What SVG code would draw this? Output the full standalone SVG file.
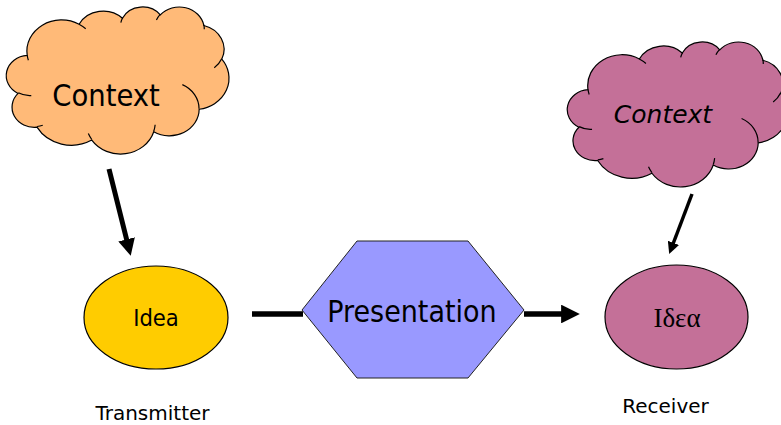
<svg xmlns="http://www.w3.org/2000/svg" xmlns:xlink="http://www.w3.org/1999/xlink" width="781" height="425" viewBox="0 0 781 425">
  <style>
    .cloud { stroke: #000; stroke-width: 1.2; }
    .crease { fill: none; stroke: #000; stroke-width: 1.2; }
    .nss { vector-effect: non-scaling-stroke; }
    .node { stroke: #000; stroke-width: 1.2; }
    .big { font-family: "DejaVu Sans Condensed", "DejaVu Sans", sans-serif; fill: #000; text-anchor: middle; }
    .small { font-family: "DejaVu Sans", sans-serif; fill: #000; text-anchor: middle; font-size: 20px; }
    .conn { stroke: #000; fill: none; }
  </style>
  <defs>
    <path id="cloudShape" class="nss" vector-effect="non-scaling-stroke" d="M 3900,14370 A 6753,9190 0 0 1 14005,5202 A 5333,7267 0 0 1 22457,3434 A 4365,5945 0 0 1 29834,2483 A 4857,6595 0 0 1 38319,5578 A 5333,7273 0 0 1 41819,15462 A 6775,9220 0 0 1 37405,30205 A 5785,7867 0 0 1 28557,36815 A 6752,9215 0 0 1 16482,39267 A 7720,10543 0 0 1 5806,35473 A 4360,5918 0 0 1 2115,25551 A 4345,5945 0 0 1 3900,14370 Z"/>
    <path id="cloudCreases" class="nss" vector-effect="non-scaling-stroke" d="M4693,26177 A4345,5945 0 0 1 2160,25380 M6928,34899 A4360,5918 0 0 1 5820,35280 M16478,39090 A6752,9215 0 0 1 15810,37349 M28827,34751 A6752,9215 0 0 1 28560,36660 M34129,22954 A5785,7867 0 0 1 37381,30090 M41798,15354 A5333,7273 0 0 1 40350,18030 M38324,5426 A4857,6595 0 0 1 38400,6690 M29078,3952 A4857,6595 0 0 1 29820,2339 M22141,4720 A4365,5945 0 0 1 22500,3330 M14000,5192 A6753,9190 0 0 1 15301,6542 M4127,15789 A6753,9190 0 0 1 3900,14371"/>
    <marker id="arrow" viewBox="0 0 10 10" refX="1" refY="5" markerWidth="3.4" markerHeight="3.4" orient="auto" markerUnits="strokeWidth">
      <path d="M0,0 L10,5 L0,10 Z" fill="#000"/>
    </marker>
  </defs>

  <g id="context-left">
    <g transform="translate(7.2,6.5) scale(0.005132,0.003402)">
      <use xlink:href="#cloudShape" class="cloud" fill="#FFBA78"/>
      <use xlink:href="#cloudCreases" class="crease"/>
    </g>
    <text class="big" x="106" y="106" font-size="30.5">Context</text>
  </g>

  <g id="context-right">
    <g transform="translate(568.2,41.5) scale(0.00508,0.003355)">
      <use xlink:href="#cloudShape" class="cloud" fill="#C47098"/>
      <use xlink:href="#cloudCreases" class="crease"/>
    </g>
    <text x="663" y="123" font-family="'DejaVu Sans', sans-serif" font-style="italic" font-size="25" text-anchor="middle" fill="#000">Context</text>
  </g>

  <g id="idea-left">
    <ellipse class="node" cx="156" cy="317.5" rx="72" ry="51.5" fill="#FFCC00"/>
    <text class="big" x="156" y="326" font-size="23.5">Idea</text>
  </g>

  <g id="presentation">
    <polygon points="302,310 357,241 468,241 524,310 468,378 357,378" fill="#9999FF" stroke="#222" stroke-width="1"/>
    <text class="big" x="412" y="322" font-size="30">Presentation</text>
  </g>

  <g id="idea-right">
    <ellipse class="node" cx="676.5" cy="317" rx="71.5" ry="52" fill="#C47098"/>
    <text x="677" y="327" font-family="'Liberation Serif', serif" font-size="27" text-anchor="middle" fill="#000">Ιδεα</text>
  </g>

  <g id="labels">
    <text class="small" x="152.5" y="420">Transmitter</text>
    <text class="small" x="665.5" y="413">Receiver</text>
  </g>

  <g id="connectors">
    <line class="conn" x1="109" y1="169" x2="127" y2="241" stroke-width="5" marker-end="url(#arrow)"/>
    <line class="conn" x1="692" y1="194" x2="673" y2="244" stroke-width="3.5" marker-end="url(#arrow)"/>
    <line class="conn" x1="252" y1="314" x2="303" y2="314" stroke-width="5.5"/>
    <line class="conn" x1="524" y1="314" x2="563" y2="314" stroke-width="5.5" marker-end="url(#arrow)"/>
  </g>
</svg>
